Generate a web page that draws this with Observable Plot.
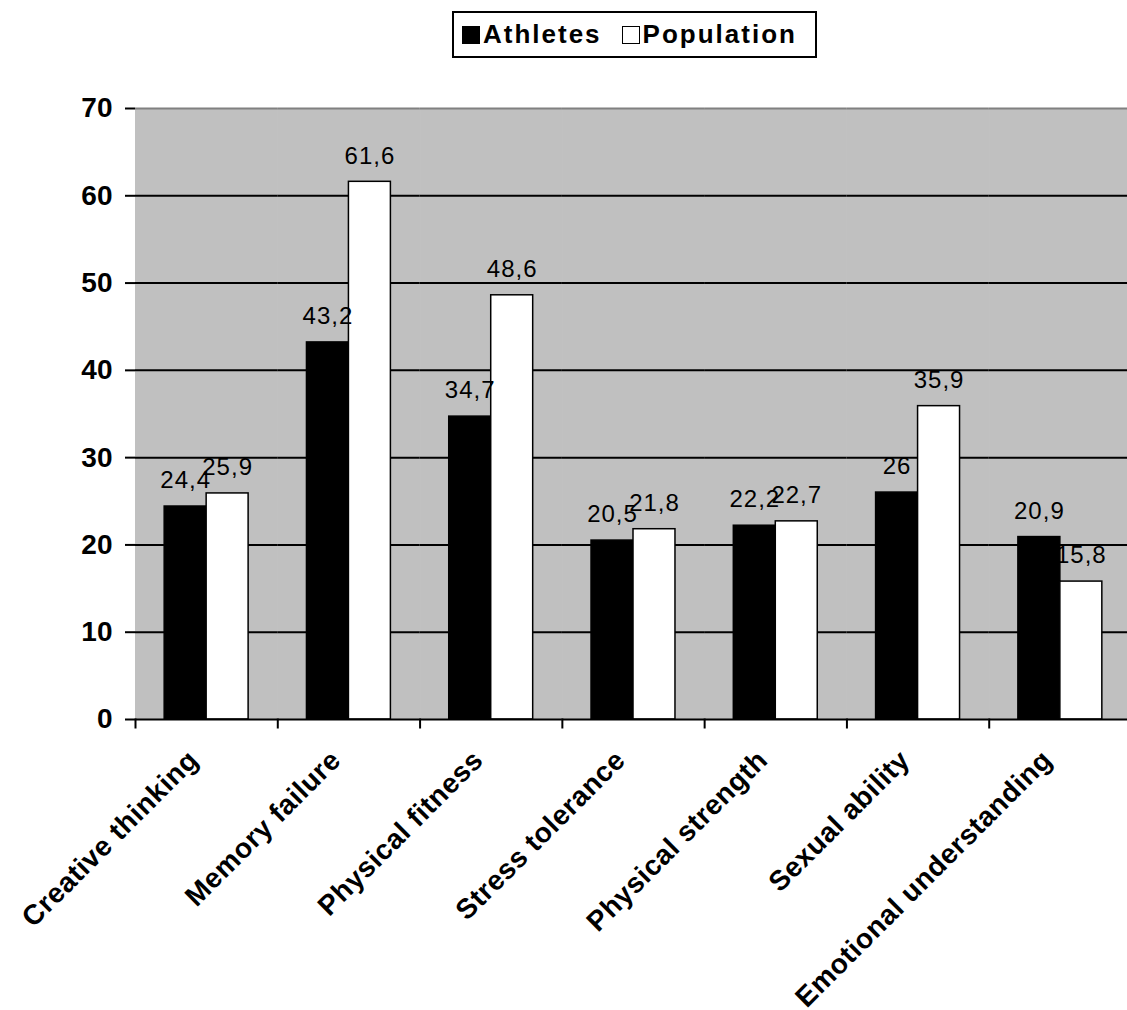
<!DOCTYPE html>
<html>
<head>
<meta charset="utf-8">
<script src="https://cdn.jsdelivr.net/npm/d3@7"></script>
<script src="https://cdn.jsdelivr.net/npm/@observablehq/plot@0.6"></script>
<style>
  html, body { margin: 0; padding: 0; background: white; overflow: hidden; }
  #head { position: relative; height: 70px; }
  #legend {
    position: absolute; left: 452px; top: 11px; height: 47px;
    box-sizing: border-box; border: 2px solid black; background: white;
    display: flex; align-items: center; padding: 0 18px 0 8px;
    font: bold 26px "Liberation Sans", Arial, sans-serif; letter-spacing: 2px; color: black;
  }
  #legend .item { display: flex; align-items: center; }
  #legend .item + .item { margin-left: 20px; }
  #legend .sw { width: 18px; height: 18px; box-sizing: border-box; border: 1.5px solid black; margin-right: 3px; }
  svg [aria-label="fx-axis tick label"] text { letter-spacing: 0.5px; }
  svg [aria-label="text"] text { letter-spacing: 1px; }
</style>
</head>
<body>
<div id="head"><div id="legend"></div></div>
<div id="chart"></div>
<script>
// Survey categories and the share (%) reported by each group
const categories = [
  "Creative thinking",
  "Memory failure",
  "Physical fitness",
  "Stress tolerance",
  "Physical strength",
  "Sexual ability",
  "Emotional understanding"
];
const series = ["Athletes", "Population"];
const athletes = [24.4, 43.2, 34.7, 20.5, 22.2, 26, 20.9];
const population = [25.9, 61.6, 48.6, 21.8, 22.7, 35.9, 15.8];
const seriesColors = ["black", "white"];
const yTicks = [0, 10, 20, 30, 40, 50, 60, 70];
const gridValues = [10, 20, 30, 40, 50, 60];

// Long table: one row per category × series
const rows = categories.flatMap((c, i) => [
  {category: c, series: series[0], value: athletes[i]},
  {category: c, series: series[1], value: population[i]}
]);

// Decimal comma labels
const fmt = v => String(v).replace(".", ",");

// Legend
const legend = document.getElementById("legend");
series.forEach((s, i) => {
  const item = document.createElement("div");
  item.className = "item";
  const sw = document.createElement("span");
  sw.className = "sw";
  sw.style.background = seriesColors[i];
  item.appendChild(sw);
  item.appendChild(document.createTextNode(s));
  legend.appendChild(item);
});

const chart = Plot.plot({
  width: 1127,
  height: 940,
  marginTop: 38,
  marginBottom: 291,
  marginLeft: 135,
  marginRight: -4,
  style: {
    fontFamily: "'Liberation Sans', Arial, sans-serif",
    background: "white",
    color: "black",
    overflow: "hidden"
  },
  fx: {domain: categories, padding: 0, round: false, label: null, axis: null},
  x: {domain: series, paddingInner: 0, paddingOuter: 0.695, round: false, axis: null},
  y: {domain: [0, 70], label: null, axis: null},
  color: {domain: series, range: seriesColors},
  marks: [
    // gray plot area, gridlines and top border
    Plot.frame({fill: "#c0c0c0", stroke: "#c0c0c0", strokeWidth: 1}),
    Plot.ruleY(gridValues, {stroke: "black", strokeWidth: 2}),
    Plot.ruleY([70], {stroke: "#808080", strokeWidth: 2}),
    // grouped bars
    Plot.barY(rows, {
      fx: "category", x: "series", y: "value",
      fill: "series", stroke: "black", strokeWidth: 1.5
    }),
    // value labels
    Plot.text(rows, {
      fx: "category", x: "series", y: "value",
      text: d => fmt(d.value),
      dy: -26, fontSize: 24, fill: "black"
    }),
    // baseline and category boundary ticks
    Plot.ruleY([0], {stroke: "black", strokeWidth: 2}),
    Plot.frame({anchor: "left", insetTop: 611, insetBottom: -8, stroke: "black", strokeWidth: 2}),
    // axes
    Plot.axisY({
      ticks: yTicks, tickSize: 10, tickPadding: 13, line: true,
      strokeWidth: 2, fontSize: 28, fontWeight: "bold", label: null
    }),
    Plot.axisFx({
      anchor: "bottom", tickRotate: -45, tickSize: 0, tickPadding: 36, dx: -13,
      fontSize: 28, fontWeight: "bold", label: null
    })
  ]
});
document.getElementById("chart").appendChild(chart);
</script>
</body>
</html>
